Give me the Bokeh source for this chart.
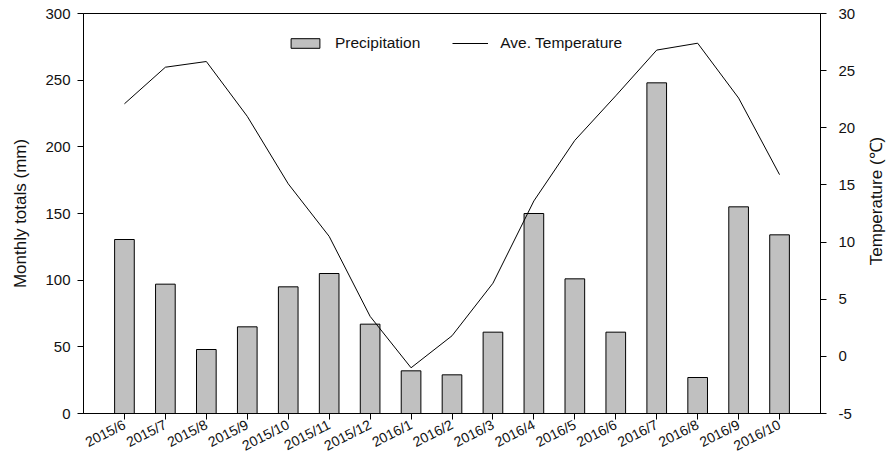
import math
from bokeh.plotting import figure
from bokeh.layouts import row
from bokeh.models import Range1d, LinearAxis, FixedTicker, Legend, LegendItem
from bokeh.core.properties import value
from bokeh.embed import file_html
from bokeh.resources import INLINE

months = ["2015/6", "2015/7", "2015/8", "2015/9", "2015/10", "2015/11", "2015/12",
          "2016/1", "2016/2", "2016/3", "2016/4", "2016/5", "2016/6", "2016/7",
          "2016/8", "2016/9", "2016/10"]
precip = [130.5, 97, 48, 65, 95, 105, 67, 32, 29, 61, 150, 101, 61, 248, 27, 155, 134]
temp = [22.1, 25.3, 25.8, 21.0, 15.1, 10.5, 3.5, -1.0, 1.8, 6.4, 13.6, 18.9, 22.8,
        26.8, 27.4, 22.6, 15.9]
left_ticks = [0, 50, 100, 150, 200, 250, 300]
right_ticks = [-5, 0, 5, 10, 15, 20, 25, 30]
right_label = "Temperature (\u2103)"

xs = list(range(len(months)))
FONT = "Liberation Sans"

p = figure(frame_width=737, frame_height=400, output_backend="svg", toolbar_location=None,
           x_range=Range1d(-1, len(months)), y_range=Range1d(0, 300),
           min_border_left=83, min_border_top=13, min_border_right=46, min_border_bottom=0)
p.extra_y_ranges = {"temp": Range1d(-5, 30)}

p.xgrid.visible = False
p.ygrid.visible = False
p.outline_line_color = "black"
p.outline_line_alpha = 1
p.background_fill_color = "white"
p.border_fill_color = "white"

bars = p.vbar(x=xs, top=precip, bottom=0, width=0.48, fill_color="#c0c0c0",
              line_color="black", line_width=1)
line = p.line(x=xs, y=temp, line_color="black", line_width=1, y_range_name="temp")

def style(ax):
    ax.axis_line_color = "black"
    ax.major_tick_line_color = "black"
    ax.major_tick_out = 6
    ax.major_tick_in = 0
    ax.minor_tick_line_color = None
    ax.major_label_text_font = FONT
    ax.major_label_text_font_size = "15px"
    ax.major_label_text_color = "#111111"
    ax.axis_label_text_font = FONT
    ax.axis_label_text_font_size = "17px"
    ax.axis_label_text_font_style = "normal"
    ax.axis_label_text_color = "#111111"

xa = p.xaxis[0]
xa.ticker = FixedTicker(ticks=xs)
xa.major_label_overrides = {i: m for i, m in enumerate(months)}
xa.major_label_orientation = 0.47
style(xa)
xa.major_label_text_font_size = "14px"
xa.major_label_standoff = 4

ya = p.yaxis[0]
ya.ticker = FixedTicker(ticks=left_ticks)
ya.axis_label = "Monthly totals (mm)"
style(ya)
ya.major_label_standoff = 7
ya.axis_label_standoff = 12

ra = LinearAxis(y_range_name="temp", ticker=FixedTicker(ticks=right_ticks))
style(ra)
ra.major_label_overrides = {t: str(t) for t in right_ticks}
ra.major_label_standoff = 12
p.add_layout(ra, "right")

legend = Legend(items=[LegendItem(label="Precipitation", renderers=[bars]),
                       LegendItem(label="Ave. Temperature", renderers=[line])],
                orientation="horizontal", location=(204, 361),
                border_line_color=None, background_fill_alpha=0,
                glyph_width=36, glyph_height=12, label_standoff=12, spacing=32,
                padding=0, margin=0,
                label_text_font=FONT, label_text_font_size="15.5px",
                label_text_color="#111111")
p.add_layout(legend, "center")

# side strip carrying the right axis title, reading bottom to top
q = figure(width=20, height=438, output_backend="svg", toolbar_location=None,
           x_range=Range1d(0, 1), y_range=Range1d(0, 1), min_border=0)
q.axis.visible = False
q.grid.visible = False
q.outline_line_color = None
q.background_fill_color = "white"
q.border_fill_color = "white"
q.text(x=[0.5], y=[0.5], text=[right_label], angle=math.pi / 2,
       text_align="center", text_baseline="middle",
       text_font=value(FONT), text_font_size="17px", text_color="#111111")

layout = row(p, q, spacing=0)
open("out.html", "w").write(file_html(layout, INLINE))
